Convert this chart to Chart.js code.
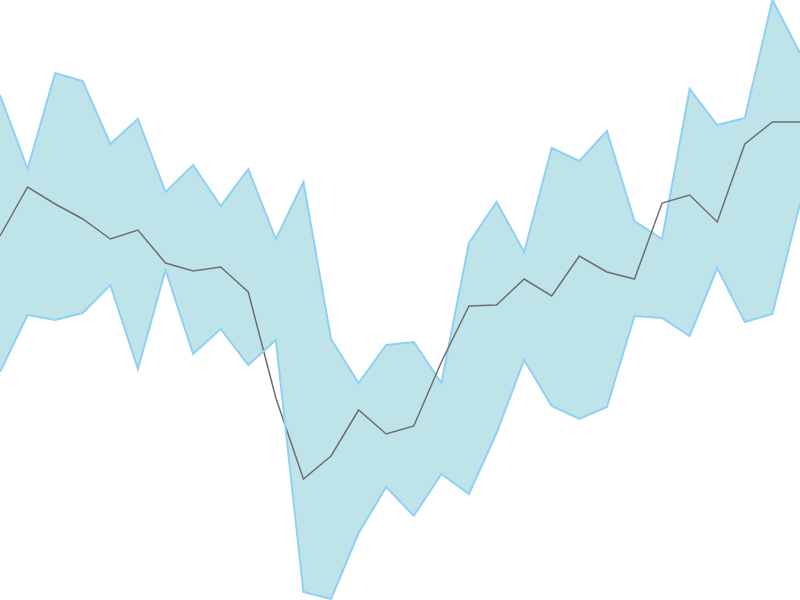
<!DOCTYPE html>
<html>
<head>
<meta charset="utf-8">
<script src="https://cdn.jsdelivr.net/npm/chart.js@4"></script>
<style>
  html, body { margin: 0; padding: 0; background: #fff; }
  canvas { display: block; }
</style>
</head>
<body>
<canvas id="bandChart" width="800" height="600"></canvas>
<script>
  const labels = Array.from({ length: 30 }, (_, i) => i + 1)

  const upper = [505, 431, 527, 519, 456, 481, 408, 435, 394, 431,
                 361, 418, 261, 217, 255, 258, 217, 357, 398, 348,
                 452, 439, 469, 379, 361, 511, 475, 482, 600, 547]
  const middle = [364, 413, 396, 381, 361, 370, 337, 329, 333, 308,
                  202, 121, 144, 190, 166, 174, 238, 294, 295, 321,
                  304, 344, 328, 321, 397, 405, 378, 456, 478, 478]
  const lower = [228, 285, 280, 287, 315, 231, 330, 246, 271, 235,
                 260, 8, 1, 67, 113, 84, 126, 106, 167, 240,
                 194, 181, 193, 284, 282, 264, 332, 278, 286, 396]

  const ctx = document.getElementById('bandChart')
  new Chart(ctx, {
    type: 'line',
    data: {
      labels: labels,
      datasets: [{
        data: lower,
        borderColor: '#90d0f4',
        borderWidth: 2,
        pointRadius: 0,
        fill: false
      }, {
        data: middle,
        borderColor: '#6e6e6e',
        borderWidth: 1.5,
        pointRadius: 0,
        fill: false
      }, {
        data: upper,
        borderColor: '#90d0f4',
        borderWidth: 2,
        pointRadius: 0,
        backgroundColor: '#bee4e9',
        fill: 0
      }]
    },
    options: {
      responsive: false,
      animation: false,
      devicePixelRatio: 1,
      layout: { padding: 0 },
      elements: { line: { tension: 0 } },
      scales: {
        x: { display: false, offset: false },
        y: { display: false, min: 0, max: 600 }
      },
      plugins: {
        legend: { display: false },
        tooltip: { enabled: false }
      }
    }
  })
</script>
</body>
</html>
